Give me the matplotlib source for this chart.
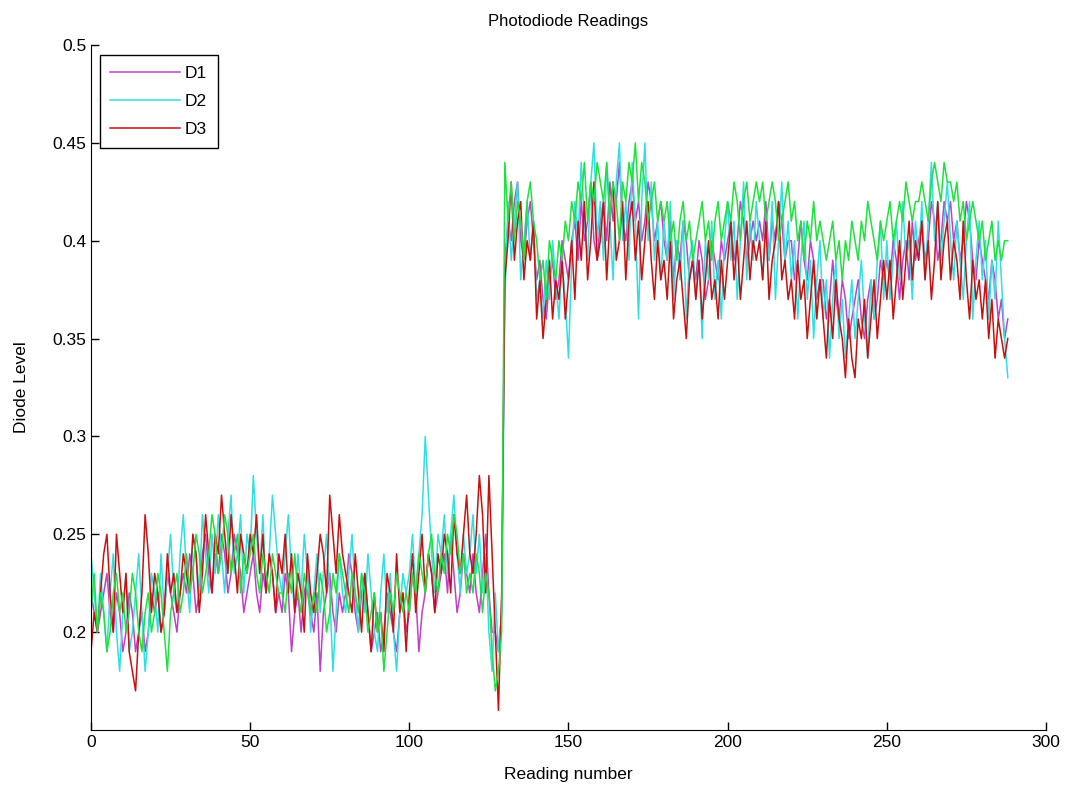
import matplotlib
matplotlib.use("Agg")
import matplotlib.pyplot as plt
import numpy as np

# diode readings in hundredths, one value per reading (0..288)
d1_raw = [
    22, 21, 20, 21, 22, 23, 21, 20, 22, 21,
    19, 20, 22, 21, 19, 20, 21, 19, 20, 22,
    21, 22, 20, 21, 23, 22, 21, 20, 22, 23,
    22, 24, 23, 21, 22, 24, 25, 23, 22, 24,
    23, 25, 24, 22, 23, 25, 24, 23, 21, 22,
    23, 24, 22, 21, 23, 22, 24, 23, 21, 22,
    21, 23, 22, 19, 21, 22, 20, 22, 23, 21,
    20, 22, 18, 21, 22, 23, 21, 20, 22, 21,
    22, 24, 23, 21, 20, 22, 23, 21, 19, 20,
    21, 19, 20, 22, 21, 20, 19, 21, 22, 20,
    21, 23, 22, 19, 21, 22, 24, 23, 21, 22,
    23, 24, 22, 25, 23, 21, 22, 24, 23, 22,
    24, 22, 21, 23, 25, 22, 20, 20, 19, 21,
    39, 41, 40, 42, 43, 40, 39, 41, 42, 40,
    38, 39, 37, 36, 38, 39, 37, 38, 40, 39,
    38, 40, 41, 39, 42, 40, 41, 43, 40, 39,
    41, 42, 40, 43, 41, 42, 44, 41, 40, 42,
    43, 41, 42, 40, 41, 43, 42, 40, 41, 42,
    40, 39, 41, 38, 40, 39, 41, 40, 38, 39,
    38, 40, 39, 37, 38, 40, 39, 38, 40, 39,
    40, 41, 39, 40, 42, 41, 39, 40, 41, 40,
    41, 40, 42, 39, 41, 40, 42, 41, 39, 40,
    40, 38, 39, 41, 39, 38, 40, 39, 37, 38,
    38, 36, 37, 39, 37, 36, 38, 37, 35, 36,
    37, 38, 36, 35, 37, 38, 36, 37, 39, 38,
    39, 38, 40, 39, 37, 39, 40, 38, 41, 39,
    40, 41, 39, 40, 42, 41, 39, 40, 42, 41,
    42, 40, 41, 39, 40, 42, 41, 39, 38, 40,
    39, 38, 37, 39, 38, 36, 37, 35, 36,
]

d2_raw = [
    24, 22, 20, 23, 21, 19, 22, 24, 20, 18,
    21, 23, 19, 20, 22, 24, 21, 18, 20, 23,
    22, 20, 24, 21, 23, 25, 22, 21, 24, 26,
    23, 21, 25, 24, 22, 26, 24, 22, 25, 23,
    26, 24, 22, 25, 27, 23, 24, 26, 22, 25,
    24, 28, 25, 23, 26, 22, 24, 27, 25, 23,
    22, 24, 26, 23, 21, 24, 22, 25, 23, 20,
    22, 24, 21, 23, 25, 22, 18, 21, 24, 22,
    21, 23, 25, 22, 20, 23, 21, 24, 22, 20,
    19, 22, 24, 21, 23, 20, 18, 21, 23, 22,
    23, 25, 22, 24, 26, 30, 27, 24, 22, 25,
    24, 26, 23, 25, 27, 24, 22, 25, 23, 24,
    26, 23, 25, 22, 24, 20, 18, 22, 19, 21,
    37, 42, 39, 41, 43, 38, 40, 42, 39, 41,
    37, 38, 36, 39, 37, 40, 38, 36, 39, 37,
    34, 39, 42, 40, 44, 41, 39, 43, 45, 40,
    42, 39, 44, 41, 38, 43, 45, 40, 42, 39,
    44, 41, 36, 42, 45, 40, 43, 39, 41, 38,
    41, 39, 42, 37, 40, 38, 41, 36, 39, 40,
    37, 39, 35, 40, 38, 41, 37, 39, 36, 40,
    42, 39, 41, 37, 40, 43, 38, 41, 39, 42,
    40, 38, 41, 39, 42, 37, 40, 43, 39, 41,
    38, 40, 36, 39, 41, 37, 39, 35, 38, 40,
    36, 38, 34, 37, 39, 35, 37, 34, 36, 38,
    35, 37, 39, 36, 34, 38, 36, 39, 41, 37,
    40, 37, 39, 41, 38, 42, 39, 40, 37, 41,
    39, 42, 38, 41, 44, 40, 42, 39, 41, 43,
    40, 38, 41, 39, 37, 40, 42, 36, 39, 41,
    38, 40, 36, 39, 37, 41, 38, 35, 33,
]

d3_raw = [
    19, 21, 20, 22, 24, 25, 22, 20, 25, 23,
    21, 23, 19, 18, 17, 20, 22, 26, 24, 21,
    23, 22, 20, 21, 24, 22, 23, 21, 22, 24,
    23, 22, 25, 24, 21, 23, 26, 24, 22, 25,
    24, 27, 25, 23, 26, 24, 22, 25, 24, 23,
    25, 24, 26, 23, 25, 22, 24, 23, 21, 24,
    23, 25, 22, 24, 21, 23, 22, 20, 24, 22,
    21, 23, 25, 24, 22, 27, 25, 23, 26, 24,
    23, 22, 21, 24, 22, 20, 23, 21, 19, 22,
    20, 21, 19, 23, 22, 20, 24, 21, 22, 19,
    22, 24, 21, 23, 25, 22, 24, 23, 21, 24,
    23, 25, 24, 22, 26, 24, 23, 25, 27, 24,
    23, 25, 28, 26, 22, 28, 24, 20, 16, 22,
    38, 40, 43, 39, 41, 42, 38, 40, 39, 41,
    36, 38, 35, 37, 39, 36, 38, 37, 39, 36,
    38, 40, 37, 41, 39, 42, 38, 40, 43, 39,
    40, 42, 38, 41, 43, 39, 40, 42, 38, 41,
    42, 39, 41, 38, 40, 42, 39, 37, 40, 38,
    39, 37, 40, 36, 38, 39, 37, 35, 38, 39,
    37, 39, 36, 38, 40, 37, 38, 36, 39, 37,
    39, 41, 38, 40, 37, 39, 41, 38, 40, 39,
    40, 38, 41, 37, 39, 40, 42, 38, 39, 37,
    38, 36, 39, 37, 38, 35, 37, 39, 36, 38,
    36, 34, 37, 35, 38, 36, 35, 33, 36, 34,
    33, 36, 35, 37, 34, 36, 38, 35, 37, 39,
    37, 39, 36, 38, 40, 37, 39, 41, 38, 40,
    39, 41, 38, 40, 37, 39, 42, 38, 40, 41,
    38, 40, 39, 37, 41, 38, 36, 39, 37, 38,
    36, 38, 35, 37, 34, 36, 35, 34, 35,
]

d4_raw = [
    21, 23, 20, 22, 21, 19, 20, 22, 23, 21,
    22, 20, 21, 23, 22, 20, 19, 21, 22, 20,
    21, 23, 22, 20, 18, 21, 22, 23, 21, 22,
    24, 22, 23, 25, 24, 22, 23, 24, 26, 25,
    23, 24, 26, 25, 23, 24, 25, 22, 24, 23,
    24, 25, 23, 22, 24, 23, 22, 24, 23, 22,
    22, 21, 23, 22, 24, 22, 21, 23, 22, 21,
    22, 21, 23, 22, 20, 21, 23, 22, 24, 23,
    22, 21, 23, 22, 21, 23, 22, 20, 21, 22,
    20, 21, 18, 20, 22, 21, 23, 22, 21, 22,
    21, 23, 22, 24, 23, 22, 24, 25, 23, 22,
    24, 23, 25, 24, 26, 25, 23, 24, 22, 23,
    22, 24, 23, 21, 23, 22, 19, 17, 18, 20,
    44, 41, 43, 40, 42, 41, 39, 42, 43, 41,
    40, 38, 39, 37, 40, 39, 38, 40, 39, 41,
    40, 42, 41, 43, 42, 44, 41, 43, 42, 44,
    43, 42, 44, 41, 43, 42, 40, 43, 42, 44,
    43, 45, 42, 44, 43, 41, 42, 43, 41, 42,
    41, 42, 40, 41, 39, 41, 42, 40, 41, 39,
    40, 41, 42, 40, 41, 39, 41, 42, 40, 41,
    42, 41, 43, 42, 40, 42, 43, 41, 42, 43,
    42, 43, 41, 42, 43, 42, 40, 41, 42, 43,
    41, 42, 40, 41, 39, 41, 40, 42, 40, 41,
    40, 39, 40, 41, 39, 40, 38, 40, 39, 41,
    40, 39, 41, 40, 42, 41, 40, 39, 41, 40,
    41, 42, 40, 41, 42, 41, 43, 42, 41, 42,
    42, 43, 42, 41, 43, 44, 43, 42, 44, 43,
    43, 42, 43, 41, 42, 40, 41, 42, 41, 40,
    41, 39, 40, 41, 39, 40, 39, 40, 40,
]

x_ticks = [0, 50, 100, 150, 200, 250, 300]
y_ticks = [0.2, 0.25, 0.3, 0.35, 0.4, 0.45, 0.5]
y_tick_labels = ["0.2", "0.25", "0.3", "0.35", "0.4", "0.45", "0.5"]

plt.rcParams['font.family'] = ['Liberation Sans', 'DejaVu Sans']

fig = plt.figure(figsize=(10.68, 7.89), dpi=100)
ax = fig.add_axes([0.0852, 0.0748, 0.8942, 0.8682])

series = [
    (d1_raw, '#c040c8', 'D1'),
    (d2_raw, '#30e0e0', 'D2'),
    (d3_raw, '#c81010', 'D3'),
    (d4_raw, '#20e040', None),
]
for raw, color, name in series:
    y = np.array(raw) / 100.0
    x = np.arange(len(y))
    ax.plot(x, y, '-', color=color, linewidth=1.1, label=name)

ax.set_xlim(0, 300)
ax.set_ylim(0.15, 0.5)
ax.set_xticks(x_ticks)
ax.set_yticks(y_ticks)
ax.set_yticklabels(y_tick_labels)
ax.tick_params(direction='in', length=6, labelsize=12.5, width=1)
ax.spines['top'].set_visible(False)
ax.spines['right'].set_visible(False)

ax.set_title('Photodiode Readings', fontsize=12, pad=14)
ax.set_xlabel('Reading number', fontsize=12.5, labelpad=12)
ax.set_ylabel('Diode Level', fontsize=12.5, labelpad=17)

leg = ax.legend(loc='upper left', bbox_to_anchor=(0.0094, 0.985), fontsize=12.5,
                fancybox=False, framealpha=1, edgecolor='black',
                handlelength=4.0, borderpad=0.6, labelspacing=0.75,
                handletextpad=0.3, borderaxespad=0)
leg.get_frame().set_linewidth(1.0)

fig.savefig('out.png', dpi=100)
